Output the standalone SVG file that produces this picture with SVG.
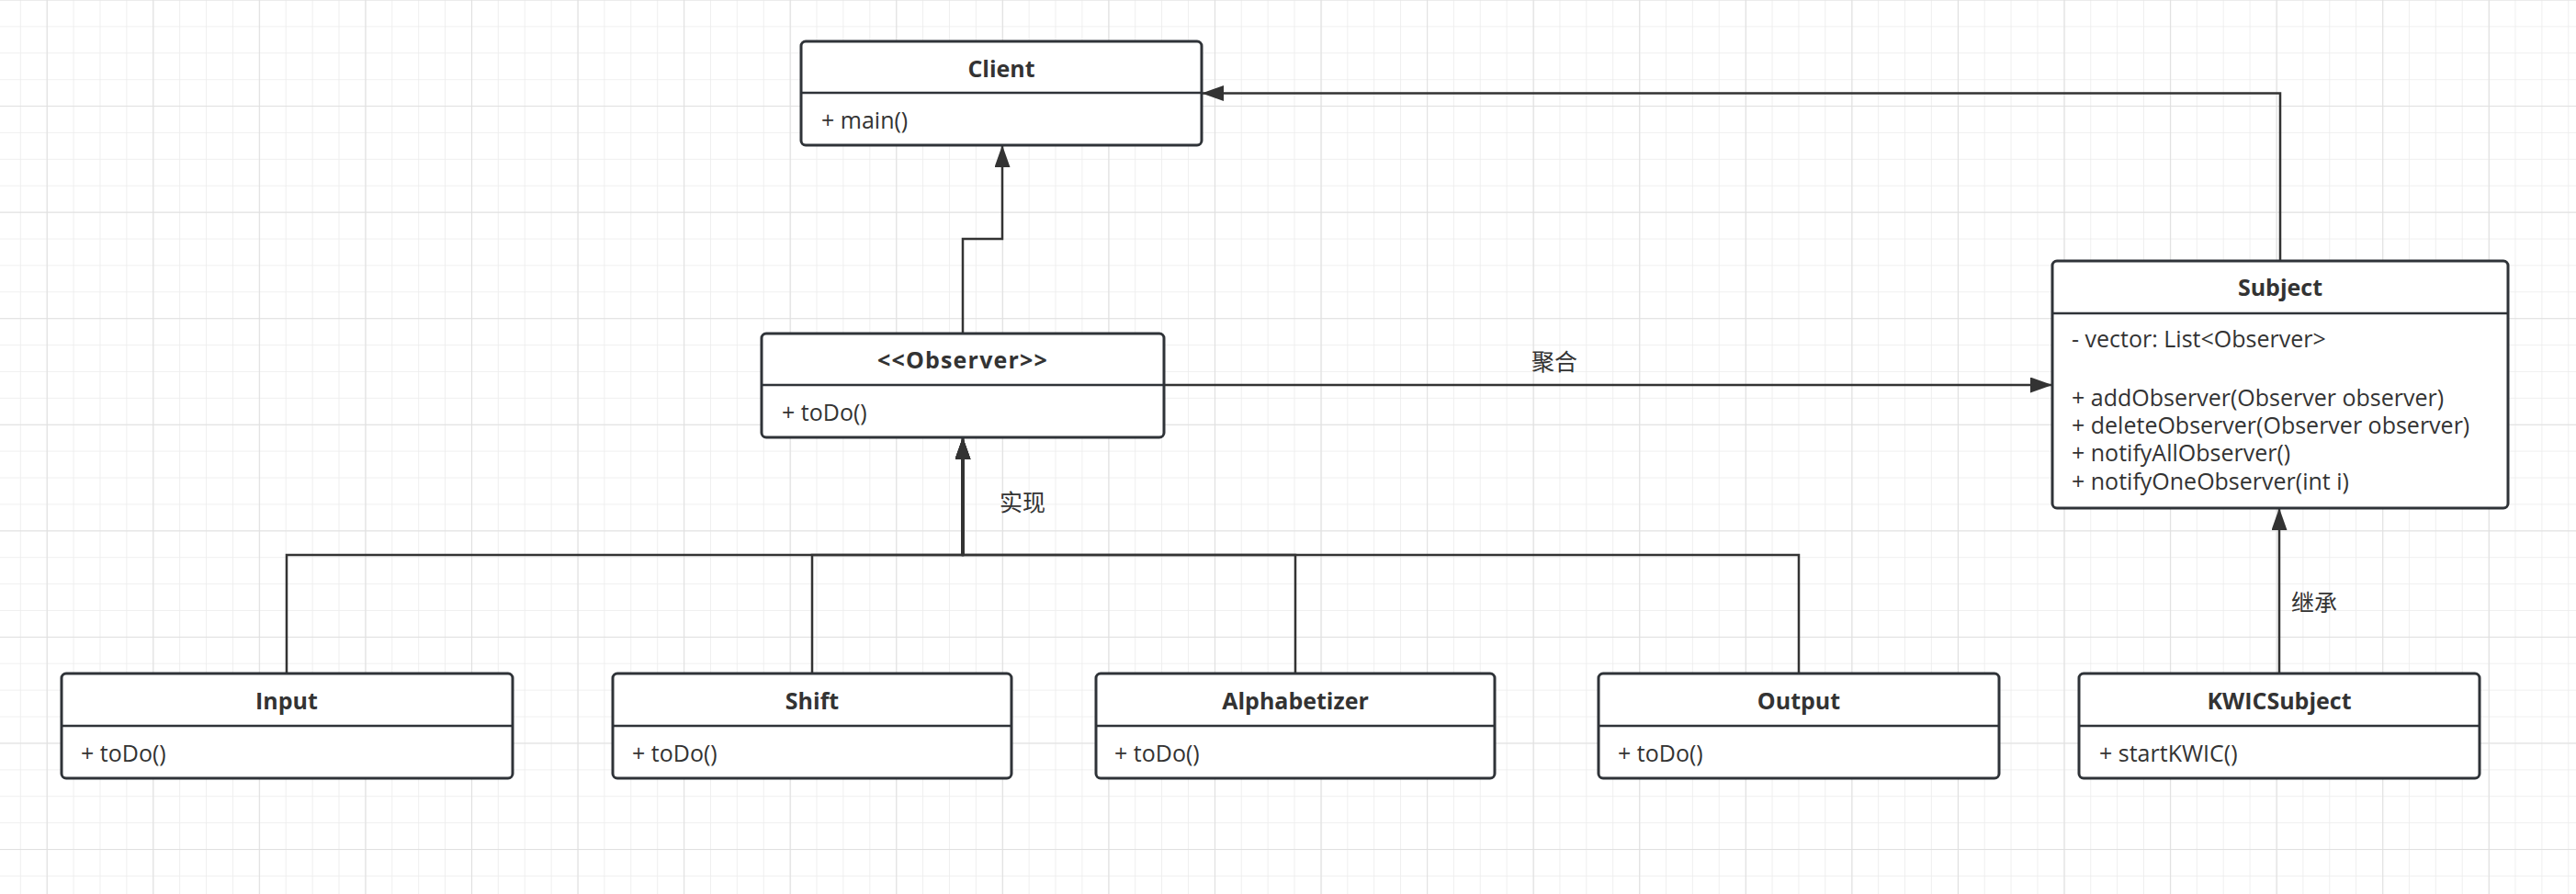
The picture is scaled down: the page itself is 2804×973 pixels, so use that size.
<svg xmlns="http://www.w3.org/2000/svg" width="2804" height="973" viewBox="0 0 2804 973">
<style>
.box{fill:#ffffff;stroke:#2f3338;stroke-width:3}
.div{stroke:#2f3338;stroke-width:2.5}
.title{font-family:"Open Sans","Noto Sans",sans-serif;font-size:25px;font-weight:bold;fill:#333;text-anchor:middle}
.body{font-family:"Open Sans","Noto Sans",sans-serif;font-size:25px;fill:#333}
.lbl{font-family:"Noto Sans CJK SC","Noto Sans",sans-serif;font-size:25px;fill:#333;text-anchor:middle}
.edge{fill:none;stroke:#333;stroke-width:2.5}
.trunk{fill:none;stroke:#333;stroke-width:4}
</style>
<defs>
<pattern id="minor" x="50.7" y="-0.5" width="28.89" height="28.89" patternUnits="userSpaceOnUse">
<path d="M0,0 H28.89 M0,0 V28.89" stroke="#ececec" stroke-width="1.6" fill="none"/>
</pattern>
<pattern id="major" x="50.7" y="-0.5" width="115.57" height="115.57" patternUnits="userSpaceOnUse">
<path d="M0,0 H115.57 M0,0 V115.57" stroke="#e0e0e0" stroke-width="2.2" fill="none"/>
</pattern>
<marker id="arr" markerUnits="userSpaceOnUse" markerWidth="24" markerHeight="17" refX="24" refY="8.5" orient="auto">
<path d="M0,0 L24,8.5 L0,17 z" fill="#333"/>
</marker>
</defs>
<rect width="2804" height="973" fill="#ffffff"/>
<rect width="2804" height="973" fill="url(#minor)"/>
<rect width="2804" height="973" fill="url(#major)"/>

<g id="connectors">
<path class="edge" d="M1048,363 V260 H1091 V158" marker-end="url(#arr)"/>
<path class="edge" d="M2482,284 V101.5 H1308" marker-end="url(#arr)"/>
<path class="edge" d="M1267,419 H2234" marker-end="url(#arr)"/>
<path class="edge" d="M312,733 V604 H1048 V476" marker-end="url(#arr)"/>
<path class="edge" d="M884,733 V604 H1048 V476" marker-end="url(#arr)"/>
<path class="edge" d="M1410,733 V604 H1048 V476" marker-end="url(#arr)"/>
<path class="edge" d="M1958,733 V604 H1048 V476" marker-end="url(#arr)"/>
<path class="trunk" d="M1048,604 V498"/>
<path class="edge" d="M2481,733 V553" marker-end="url(#arr)"/>
<text class="lbl" x="1692" y="403">聚合</text>
<text class="lbl" x="1113" y="556">实现</text>
<text class="lbl" x="2519" y="665">继承</text>
</g>

<g id="client">
<rect class="box" x="872" y="45" width="436" height="113" rx="5"/>
<line class="div" x1="872" y1="101" x2="1308" y2="101"/>
<text class="title" x="1090" y="84">Client</text>
<text class="body" x="894" y="140">+ main()</text>
</g>

<g id="observer">
<rect class="box" x="829" y="363" width="438" height="113" rx="5"/>
<line class="div" x1="829" y1="419" x2="1267" y2="419"/>
<text class="title" x="1048" y="401" letter-spacing="1.2">&lt;&lt;Observer&gt;&gt;</text>
<text class="body" x="851" y="458">+ toDo()</text>
</g>

<g id="subject">
<rect class="box" x="2234" y="284" width="496" height="269" rx="5"/>
<line class="div" x1="2234" y1="341" x2="2730" y2="341"/>
<text class="title" x="2482" y="322">Subject</text>
<text class="body" x="2255" y="378">- vector: List&lt;Observer&gt;</text>
<text class="body" x="2255" y="441.5">+ addObserver(Observer observer)</text>
<text class="body" x="2255" y="471.5">+ deleteObserver(Observer observer)</text>
<text class="body" x="2255" y="501.5">+ notifyAllObserver()</text>
<text class="body" x="2255" y="532.5">+ notifyOneObserver(int i)</text>
</g>

<g id="input">
<rect class="box" x="67" y="733" width="491" height="114" rx="5"/>
<line class="div" x1="67" y1="790" x2="558" y2="790"/>
<text class="title" x="312" y="772">Input</text>
<text class="body" x="88" y="829">+ toDo()</text>
</g>

<g id="shift">
<rect class="box" x="667" y="733" width="434" height="114" rx="5"/>
<line class="div" x1="667" y1="790" x2="1101" y2="790"/>
<text class="title" x="884" y="772">Shift</text>
<text class="body" x="688" y="829">+ toDo()</text>
</g>

<g id="alphabetizer">
<rect class="box" x="1193" y="733" width="434" height="114" rx="5"/>
<line class="div" x1="1193" y1="790" x2="1627" y2="790"/>
<text class="title" x="1410" y="772">Alphabetizer</text>
<text class="body" x="1213" y="829">+ toDo()</text>
</g>

<g id="output">
<rect class="box" x="1740" y="733" width="436" height="114" rx="5"/>
<line class="div" x1="1740" y1="790" x2="2176" y2="790"/>
<text class="title" x="1958" y="772">Output</text>
<text class="body" x="1761" y="829">+ toDo()</text>
</g>

<g id="kwicsubject">
<rect class="box" x="2263" y="733" width="436" height="114" rx="5"/>
<line class="div" x1="2263" y1="790" x2="2699" y2="790"/>
<text class="title" x="2481" y="772">KWICSubject</text>
<text class="body" x="2285" y="829">+ startKWIC()</text>
</g>
</svg>
